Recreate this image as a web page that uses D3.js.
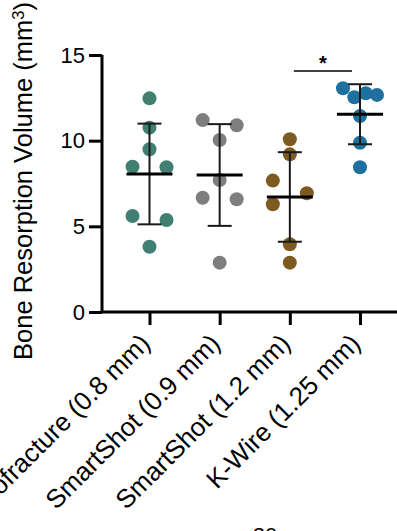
<!DOCTYPE html>
<html>
<head>
<meta charset="utf-8">
<script src="https://cdn.jsdelivr.net/npm/d3@7"></script>
<style>
  body { margin: 0; background: #fff; }
  svg { display: block; font-family: "Liberation Sans", Arial, sans-serif; }
</style>
</head>
<body>
<svg id="chart" width="397" height="531"></svg>
<script>
const groups = ["Microfracture (0.8 mm)", "SmartShot (0.9 mm)", "SmartShot (1.2 mm)", "K-Wire (1.25 mm)"];
const microfracture = [12.47, 10.76, 9.5, 8.48, 8.45, 5.6, 5.37, 3.81];
const smartShot09 = [11.2, 10.9, 10.04, 7.7, 6.67, 6.58, 2.88];
const smartShot12 = [10.08, 9.2, 7.67, 6.93, 6.29, 3.95, 2.88];
const kWire = [13.06, 12.53, 12.77, 12.67, 11.44, 9.88, 8.45];
const colors = ["#417f73", "#7e7e7e", "#7d5a20", "#20709f"];
const yTicks = [0, 5, 10, 15];
const significance = { from: 2, to: 3, label: "*" };

const series = [microfracture, smartShot09, smartShot12, kWire];

const svg = d3.select("#chart");

const x = d3.scalePoint().domain(groups).range([149.5, 360]);
const y = d3.scaleLinear().domain([0, 15]).range([312, 55]);

// spread points that sit close in value (prism-like scatter)
function spread(values, gap, width) {
  const order = d3.range(values.length).sort((a, b) => values[b] - values[a]);
  const chains = [];
  let cur = [order[0]];
  for (let k = 1; k < order.length; k++) {
    if (values[order[k - 1]] - values[order[k]] < gap) cur.push(order[k]);
    else { chains.push(cur); cur = [order[k]]; }
  }
  chains.push(cur);
  const off = new Array(values.length).fill(0);
  chains.forEach(c => {
    if (c.length === 1) return;
    c = c.slice().sort((a, b) => a - b);
    if (c.length <= 3) c.forEach((idx, i) => off[idx] = i % 2 === 0 ? -width : width);
    else c.forEach((idx, i) => off[idx] = -width + i * 2 * width / (c.length - 1));
  });
  return off;
}

// axes
const yAxis = svg.append("g")
  .attr("transform", "translate(102,0)")
  .call(d3.axisLeft(y).tickValues(yTicks).tickSize(13).tickPadding(4));
yAxis.select(".domain").attr("d", `M0,${y(15)}V${y(0)}`);

const xAxis = svg.append("g")
  .attr("transform", `translate(0,${y(0)})`)
  .call(d3.axisBottom(x).tickSize(13).tickFormat(""));
xAxis.select(".domain").attr("d", "M102,0H397");

svg.selectAll(".domain, .tick line").attr("stroke", "#000").attr("stroke-width", 3);
yAxis.selectAll(".tick text").attr("font-size", 22).attr("fill", "#000")
  .attr("font-family", "Liberation Sans, Arial, sans-serif");

// x labels rotated
svg.append("g").selectAll("text")
  .data(groups)
  .join("text")
  .attr("transform", d => `translate(${x(d) + 2},${y(0) + 33}) rotate(-45)`)
  .attr("text-anchor", "end")
  .attr("font-size", 26)
  .attr("fill", "#000")
  .text(d => d);

// y title
const title = svg.append("text")
  .attr("transform", "translate(32,181) rotate(-90)")
  .attr("text-anchor", "middle")
  .attr("font-size", 25.5)
  .attr("fill", "#000");
title.append("tspan").text("Bone Resorption Volume (mm");
title.append("tspan").attr("dy", "-0.5em").attr("font-size", "0.65em").text("3");
title.append("tspan").attr("dy", "0.33em").text(")");

// dots
series.forEach((vals, gi) => {
  const off = spread(vals, 0.8, 17);
  svg.append("g").selectAll("circle")
    .data(vals)
    .join("circle")
    .attr("cx", (d, i) => x(groups[gi]) + off[i])
    .attr("cy", d => y(d))
    .attr("r", 7)
    .attr("fill", colors[gi]);
});

// mean +/- SD
series.forEach((vals, gi) => {
  const cx = x(groups[gi]);
  const m = d3.mean(vals), sd = d3.deviation(vals);
  const g = svg.append("g").attr("stroke", "#1a1a1a");
  g.append("line").attr("x1", cx).attr("x2", cx).attr("y1", y(m + sd)).attr("y2", y(m - sd)).attr("stroke-width", 2);
  [m + sd, m - sd].forEach(v => g.append("line")
    .attr("x1", cx - 12).attr("x2", cx + 12).attr("y1", y(v)).attr("y2", y(v)).attr("stroke-width", 2));
  g.append("line").attr("x1", cx - 23).attr("x2", cx + 23).attr("y1", y(m)).attr("y2", y(m))
    .attr("stroke", "#000").attr("stroke-width", 3);
});

// significance bar
const x1 = x(groups[significance.from]) + 4, x2 = x(groups[significance.to]) - 8;
svg.append("line").attr("x1", x1).attr("x2", x2).attr("y1", 71).attr("y2", 71)
  .attr("stroke", "#000").attr("stroke-width", 1.5);
svg.append("text").attr("x", (x1 + x2) / 2).attr("y", 70)
  .attr("text-anchor", "middle").attr("font-size", 20).attr("font-weight", "bold")
  .text(significance.label);

// clipped fragment of the next panel
svg.append("text").attr("x", 265).attr("y", 543).attr("text-anchor", "middle")
  .attr("font-size", 22).attr("fill", "#000").text("20");
</script>
</body>
</html>
